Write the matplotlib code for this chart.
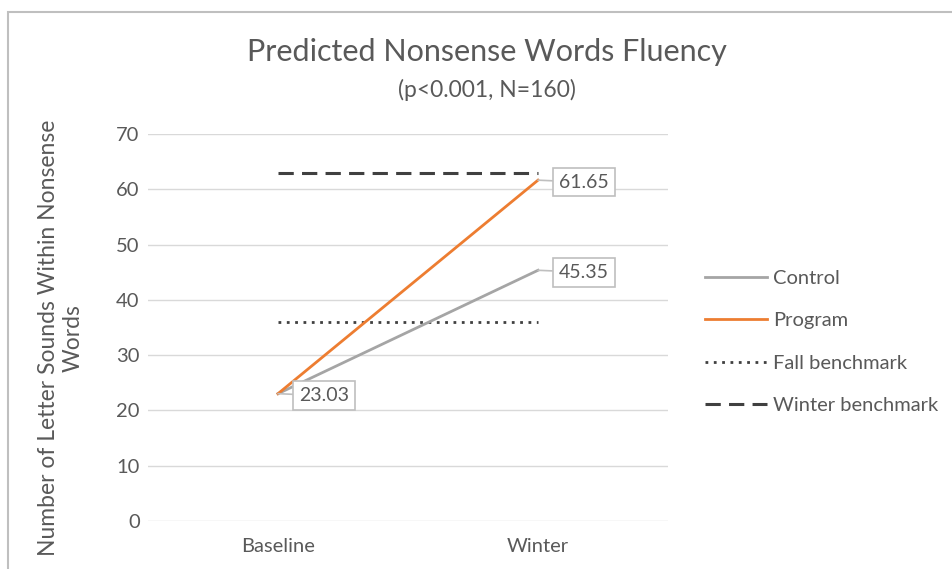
import matplotlib
matplotlib.use("agg")
import matplotlib.pyplot as plt
from matplotlib.patches import Rectangle

plt.rcParams['font.family'] = ['Lato', 'DejaVu Sans']

# data
periods = ['Baseline', 'Winter']
control = [23.03, 45.35]
program = [23.03, 61.65]
fall_benchmark = [36, 36]
winter_benchmark = [63, 63]

text_col = '#595959'

fig = plt.figure(figsize=(9.52, 5.69), dpi=100)
ax = fig.add_axes([148/952, 1-521/569, 520/952, 387/569])

x = range(len(periods))
ax.plot(x, control, color='#A5A5A5', lw=2.0, label='Control', zorder=3)
ax.plot(x, program, color='#ED7D31', lw=2.0, label='Program', zorder=4)
ax.plot(x, fall_benchmark, color='#404040', lw=2.0, ls=(0, (1, 2)),
        label='Fall benchmark', zorder=2)
ax.plot(x, winter_benchmark, color='#404040', lw=2.2, ls=(0, (5, 2.7)),
        label='Winter benchmark', zorder=2)

# data labels with callouts
labels = [(0, program[0]), (1, program[1]), (1, control[1])]
for xi, yi in labels:
    ax.annotate('%.2f' % yi, xy=(xi, yi), xytext=(46, -2),
                textcoords='offset pixels', ha='center', va='center',
                fontsize=14, color=text_col,
                bbox=dict(boxstyle='square,pad=0.3', fc='white', ec='#BFBFBF', lw=1.2),
                arrowprops=dict(arrowstyle='-', color='#BFBFBF', lw=1.2,
                                shrinkA=0, shrinkB=0),
                zorder=6)

ax.set_xlim(-0.5, 1.5)
ax.set_ylim(0, 70)
ax.set_yticks(range(0, 71, 10))
ax.set_xticks(list(x))
ax.set_xticklabels(periods)
ax.grid(axis='y', color='#D9D9D9', lw=1)
ax.set_axisbelow(True)
for s in ax.spines.values():
    s.set_visible(False)
ax.tick_params(length=0, colors=text_col, labelsize=14.5)
ax.tick_params(axis='y', pad=6)
ax.tick_params(axis='x', pad=12)

ax.set_ylabel('Number of Letter Sounds Within Nonsense\nWords', fontsize=16.5,
              color=text_col, linespacing=1.25)
ax.yaxis.set_label_coords(-0.123, 0.473)

fig.text(487/952, 1-52/569, 'Predicted Nonsense Words Fluency', ha='center',
         va='center', fontsize=22, color=text_col)
fig.text(487/952, 1-90/569, '(p<0.001, N=160)', ha='center', va='center',
         fontsize=16.5, color=text_col)

fig.legend(loc='center left', bbox_to_anchor=(705/952, 1-342/569), frameon=False,
           fontsize=14.5, handlelength=3.1, handletextpad=0.3, labelspacing=1.25,
           labelcolor=text_col, borderaxespad=0, borderpad=0)

# chart frame
fig.patches.append(Rectangle((8/952, -0.1), 1.2, 1.1 - 12/569, transform=fig.transFigure,
                             fill=False, ec='#BFBFBF', lw=1.5))

plt.savefig('out.png', dpi=100)
plt.close()
